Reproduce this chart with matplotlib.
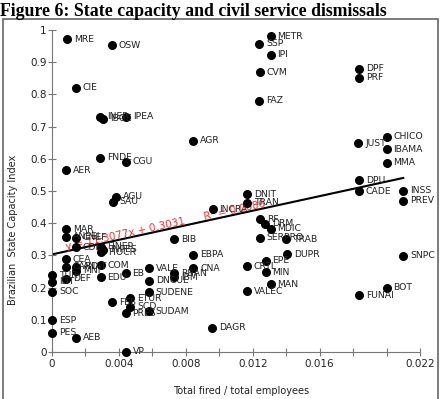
import matplotlib
matplotlib.use("Agg")
import matplotlib.pyplot as plt
from matplotlib.patches import Rectangle
import numpy as np

# agency codes, share fired, state capacity index
names = ["MRE", "OSW", "CIE", "INEP", "IBGE", "IPEA", "METR", "SSP", "IPI", "CVM",
         "FAZ", "AGR", "DPF", "PRF", "JUST", "CHICO", "IBAMA", "MMA", "DPU", "CADE",
         "INSS", "PREV", "SNPC", "BOT", "FUNAI", "FNDE", "CGU", "AER", "AGU", "SAU",
         "MAR", "ANEEL", "CNEF", "BIB", "CDE", "FINEP", "INPES", "FIOCR", "CEA", "CARD",
         "ANAT", "MNI", "COM", "TUR", "IDT", "DEF", "SOC", "EDU", "EB", "VALE",
         "DNCUL", "SUDENE", "FES", "ETUR", "SCD", "PRES", "SUDAM", "ESP", "PES", "AEB",
         "VP", "EBPA", "CNA", "CRTL", "EPE", "MIN", "MAN", "VALEC", "DUPR", "DAGR",
         "DNIT", "TRAN", "INCRA", "RF", "DRM", "MDIC", "SERPRO", "TRAB", "RBAN", "IBM"]
fired = [0.00092, 0.00357, 0.00142, 0.00287, 0.00303, 0.00442, 0.01307, 0.01238, 0.01307, 0.01242,
         0.01240, 0.00845, 0.01835, 0.01835, 0.01831, 0.02000, 0.02000, 0.02000, 0.01835, 0.01835,
         0.02100, 0.02100, 0.02100, 0.02000, 0.01835, 0.00287, 0.00442, 0.00082, 0.00383, 0.00363,
         0.00082, 0.00082, 0.00143, 0.00728, 0.00143, 0.00290, 0.00303, 0.00292, 0.00082, 0.00082,
         0.00143, 0.00143, 0.00290, 0.00000, 0.00000, 0.00082, 0.00000, 0.00290, 0.00440, 0.00578,
         0.00578, 0.00578, 0.00359, 0.00466, 0.00466, 0.00440, 0.00578, 0.00000, 0.00000, 0.00143,
         0.00440, 0.00845, 0.00845, 0.01164, 0.01277, 0.01277, 0.01307, 0.01164, 0.01403, 0.00958,
         0.01164, 0.01164, 0.00960, 0.01243, 0.01273, 0.01307, 0.01243, 0.01399, 0.00728, 0.00728]
capacity = [0.972, 0.953, 0.821, 0.731, 0.725, 0.731, 0.981, 0.957, 0.923, 0.869,
            0.780, 0.656, 0.879, 0.852, 0.648, 0.669, 0.630, 0.588, 0.534, 0.500,
            0.501, 0.470, 0.299, 0.200, 0.177, 0.603, 0.591, 0.565, 0.482, 0.467,
            0.381, 0.358, 0.355, 0.350, 0.325, 0.327, 0.317, 0.310, 0.288, 0.265,
            0.265, 0.253, 0.270, 0.239, 0.218, 0.227, 0.187, 0.232, 0.244, 0.260,
            0.221, 0.185, 0.154, 0.167, 0.141, 0.120, 0.127, 0.099, 0.060, 0.044,
            0.000, 0.302, 0.260, 0.267, 0.284, 0.247, 0.210, 0.189, 0.303, 0.075,
            0.490, 0.464, 0.444, 0.413, 0.398, 0.383, 0.355, 0.350, 0.245, 0.232]

slope, intercept, r2 = 11.3077, 0.3031, 0.0086
xticks = [0, 0.002, 0.004, 0.006, 0.008, 0.010, 0.012, 0.014, 0.016, 0.018, 0.020, 0.022]
xticklabels = ["0", "", "0.004", "", "0.008", "", "0.012", "", "0.016", "", "", "0.022"]
yticks = [0, 0.1, 0.2, 0.3, 0.4, 0.5, 0.6, 0.7, 0.8, 0.9, 1.0]
yticklabels = ["0", "0.1", "0.2", "0.3", "0.4", "0.5", "0.6", "0.7", "0.8", "0.9", "1"]

plt.rcParams["font.family"] = "DejaVu Sans"
fig = plt.figure(figsize=(4.42, 3.99), dpi=100)
ax = fig.add_axes([52 / 442, 47 / 399, 368 / 442, 322 / 399])

ax.scatter(fired, capacity, s=30, c="black", zorder=3, clip_on=False)
for n, x, y in zip(names, fired, capacity):
    ax.annotate(n, (x, y), xytext=(5, 0), textcoords="offset points",
                va="center", ha="left", fontsize=6.7, color="#222222")

xs = np.array([0, 0.021])
ax.plot(xs, slope * xs + intercept, color="black", lw=1.5, zorder=2)

ax.set_xlim(0, 0.022)
ax.set_ylim(0, 1)
fig.canvas.draw()
p0 = ax.transData.transform((0, intercept))
p1 = ax.transData.transform((0.01, intercept + slope * 0.01))
angle = np.degrees(np.arctan2(p1[1] - p0[1], p1[0] - p0[0]))
ax.text(0.0009, slope * 0.0009 + intercept + 0.004,
        "y = %.4fx + %.4f      R² = %.4f" % (slope, intercept, r2),
        color="#e8342f", fontsize=7.5, rotation=angle, rotation_mode="anchor",
        ha="left", va="baseline", zorder=2.5)

for side in ["top", "right"]:
    ax.spines[side].set_visible(False)
for side in ["left", "bottom"]:
    ax.spines[side].set_color("#777777")
ax.set_xticks(xticks)
ax.set_xticklabels(xticklabels)
ax.set_yticks(yticks)
ax.set_yticklabels(yticklabels)
ax.tick_params(direction="inout", length=6, color="#777777", labelsize=7.5, labelcolor="#222222")
ax.tick_params(axis="x", pad=2)
ax.tick_params(axis="y", pad=1)

fig.text(241 / 442, 1 - 391 / 399, "Total fired / total employees", ha="center", va="center",
         fontsize=7, color="#222222")
fig.text(13 / 442, 1 - 230 / 399, "Brazilian  State Capacity Index", ha="center", va="center",
         rotation=90, fontsize=7, color="#222222")

fig.text(0.0, 1 - 16 / 399, "Figure 6: State capacity and civil service dismissals",
         fontfamily="Liberation Serif", fontweight="bold", fontsize=12.8, va="baseline")
fig.add_artist(Rectangle((3 / 442, -0.05), 435 / 442, 1.05 - 19 / 399, transform=fig.transFigure,
                         fill=False, edgecolor="#666666", lw=1.2))

fig.savefig("out.png", dpi=100)
